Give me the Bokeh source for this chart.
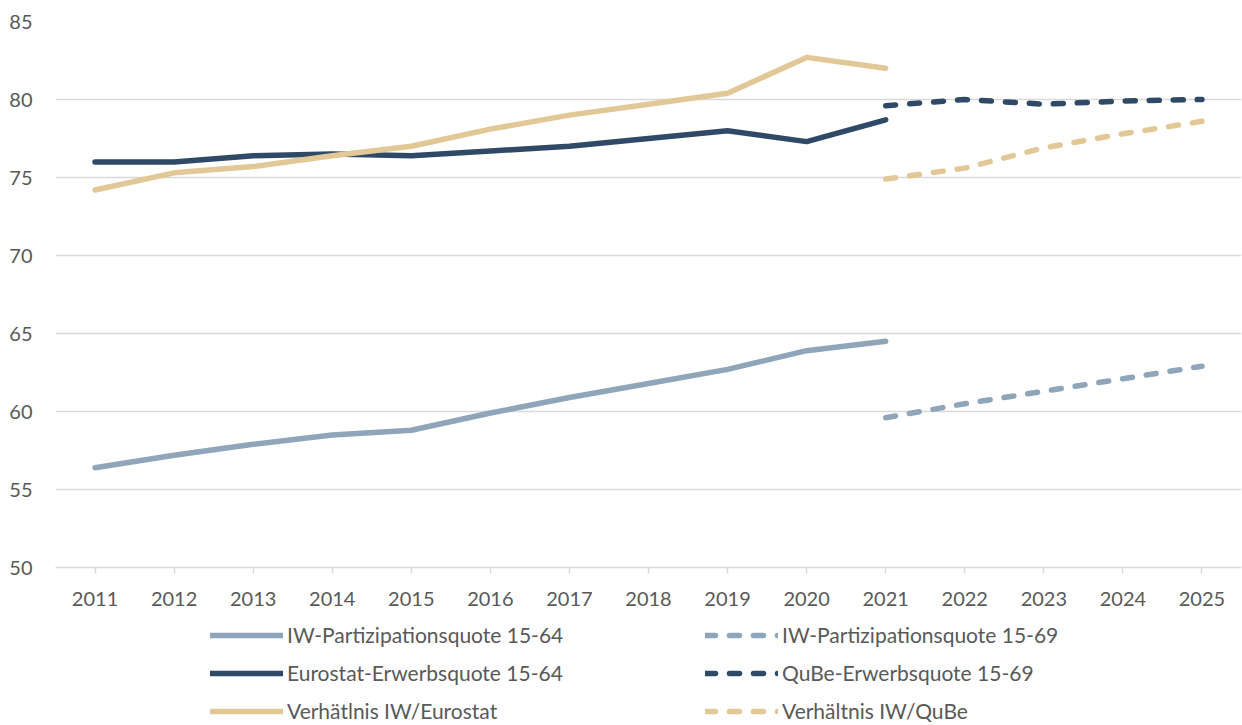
from bokeh.plotting import figure
from bokeh.models import Legend, LegendItem, FactorRange, Range1d, FixedTicker
from bokeh.layouts import column
from bokeh.embed import file_html
from bokeh.resources import INLINE

years = [str(y) for y in range(2011, 2026)]
hist_years = years[:11]   # 2011-2021
proj_years = years[10:]   # 2021-2025

iw_1564 = [56.4, 57.2, 57.9, 58.5, 58.8, 59.9, 60.9, 61.8, 62.7, 63.9, 64.5]
eurostat_1564 = [76.0, 76.0, 76.4, 76.5, 76.4, 76.7, 77.0, 77.5, 78.0, 77.3, 78.7]
ratio_iw_eurostat = [74.2, 75.3, 75.7, 76.4, 77.0, 78.1, 79.0, 79.7, 80.4, 82.7, 82.0]
iw_1569 = [59.6, 60.5, 61.3, 62.1, 62.9]
qube_1569 = [79.6, 80.0, 79.7, 79.9, 80.0]
ratio_iw_qube = [74.9, 75.6, 76.9, 77.8, 78.6]

labels = ["IW-Partizipationsquote 15-64", "Eurostat-Erwerbsquote 15-64",
          "Verhätlnis IW/Eurostat", "IW-Partizipationsquote 15-69",
          "QuBe-Erwerbsquote 15-69", "Verhältnis IW/QuBe"]
y_ticks = [50, 55, 60, 65, 70, 75, 80, 85]

C_GRAY = "#8FA5BA"
C_NAVY = "#2E4A66"
C_TAN = "#E2C797"
TXT = "#595959"
GRID = "#D9D9D9"
FONT = "Lato"
LW = 5.5
DASH = "10 14"

styles = [dict(line_color=C_GRAY), dict(line_color=C_NAVY), dict(line_color=C_TAN),
          dict(line_color=C_GRAY, line_dash=DASH), dict(line_color=C_NAVY, line_dash=DASH),
          dict(line_color=C_TAN, line_dash=DASH)]
for s in styles:
    s.update(line_width=LW, line_cap="round", line_join="round")

series = [(hist_years, iw_1564), (hist_years, eurostat_1564), (hist_years, ratio_iw_eurostat),
          (proj_years, iw_1569), (proj_years, qube_1569), (proj_years, ratio_iw_qube)]

p = figure(x_range=FactorRange(*years), y_range=Range1d(50, 85),
           width=1242, height=611, output_backend="svg", toolbar_location=None,
           min_border_left=55, min_border_right=1, min_border_top=21,
           min_border_bottom=44)
p.outline_line_color = None
p.xgrid.grid_line_color = None
p.ygrid.grid_line_color = GRID
p.ygrid.grid_line_width = 1.5

p.yaxis.ticker = FixedTicker(ticks=y_ticks)
p.yaxis.axis_line_color = None
p.yaxis.major_tick_line_color = None
p.yaxis.minor_tick_line_color = None
p.yaxis.major_tick_out = 0
p.yaxis.major_tick_in = 0
p.yaxis.major_label_standoff = 23
p.yaxis.major_label_text_font = FONT
p.yaxis.major_label_text_font_size = "20px"
p.yaxis.major_label_text_color = TXT

p.xaxis.axis_line_color = GRID
p.xaxis.axis_line_width = 1.5
p.xaxis.major_tick_line_color = GRID
p.xaxis.major_tick_line_width = 1.5
p.xaxis.major_tick_out = 6
p.xaxis.major_tick_in = 0
p.xaxis.major_label_standoff = 18
p.xaxis.major_label_text_font = FONT
p.xaxis.major_label_text_font_size = "20px"
p.xaxis.major_label_text_color = TXT

for (xs, ys), s in zip(series, styles):
    p.line(xs, ys, **s)

# legend panel underneath (its lines lie outside its visible range)
lg = figure(width=1242, height=114, output_backend="svg", toolbar_location=None,
            x_range=FactorRange(*years), y_range=Range1d(1000, 1001),
            x_axis_type=None, y_axis_type=None, min_border=0,
            min_border_left=0, min_border_right=0, min_border_top=0, min_border_bottom=0)
lg.outline_line_color = None
lg.grid.grid_line_color = None
proxies = [lg.line(xs, ys, **s) for (xs, ys), s in zip(series, styles)]
items = [LegendItem(label=l, renderers=[r]) for l, r in zip(labels, proxies)]
legend = Legend(items=items, location=(155, 2), orientation="vertical", ncols=2,
                glyph_width=73, glyph_height=20, label_height=20, label_width=405,
                spacing=13, padding=2, margin=0, label_standoff=4,
                label_text_font=FONT, label_text_font_size="21px",
                label_text_color=TXT, border_line_color=None,
                background_fill_alpha=0)
lg.add_layout(legend, "center")

layout = column(p, lg, spacing=0)
open("out.html", "w").write(file_html(layout, INLINE))
